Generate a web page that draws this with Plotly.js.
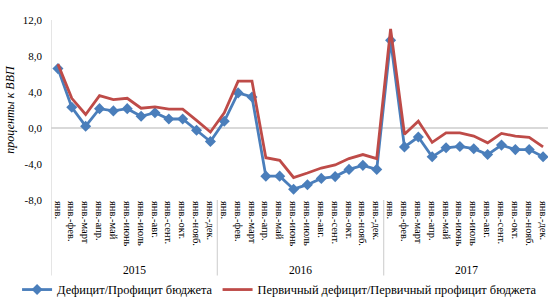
<!DOCTYPE html>
<html>
<head>
<meta charset="utf-8">
<script src="https://cdn.plot.ly/plotly-3.0.1.min.js"></script>
<style>
html,body{margin:0;padding:0;overflow:hidden;background:#fff;}
#chart{width:552px;height:298px;}
</style>
</head>
<body>
<div id="chart"></div>
<script>
const months = ["янв.","янв.-фев.","янв.-март","янв.-апр.","янв.-май","янв.-июнь","янв.-июль","янв.-авг.","янв.-сент.","янв.-окт.","янв.-нояб.","янв.-дек."];
const years = ["2015","2016","2017"];
const deficit = [6.6,2.3,0.2,2.15,1.9,2.15,1.3,1.7,1.0,1.0,-0.25,-1.5,
                 0.75,3.9,3.45,-5.35,-5.35,-6.8,-6.3,-5.6,-5.4,-4.6,-4.15,-4.6,
                 9.75,-2.1,-1.0,-3.2,-2.2,-2.05,-2.3,-2.95,-1.9,-2.4,-2.4,-3.2];
const primary = [7.1,3.3,1.5,3.6,3.15,3.3,2.2,2.35,2.1,2.1,0.85,-0.45,
                 1.7,5.2,5.2,-3.3,-3.6,-5.5,-5.0,-4.45,-4.1,-3.4,-2.95,-3.4,
                 11.0,-0.7,0.75,-1.6,-0.55,-0.55,-0.9,-1.65,-0.6,-0.9,-1.05,-2.1];
const yTicks = [-8,-4,0,4,8,12];
const yTickText = ["-8,0","-4,0","0,0","4,0","8,0","12,0"];
const seriesNames = ["Дефицит/Профицит бюджета","Первичный дефицит/Первичный профицит бюджета"];

const idx = [], labels = [];
years.forEach((y, yi) => months.forEach((m, mi) => { idx.push(yi*12+mi); labels.push(m); }));

const font = "Liberation Serif, Times New Roman, serif";
const traces = [
  {x: idx, y: deficit, name: seriesNames[0], type: "scatter", mode: "lines+markers",
   line: {color: "#4a7ebb", width: 2.8}, marker: {symbol: "diamond", size: 8.5, color: "#4a7ebb"}},
  {x: idx, y: primary, name: seriesNames[1], type: "scatter", mode: "lines",
   line: {color: "#be4b48", width: 2.8}}
];

const bottomY = -0.42;
const shapes = [];
[-0.5, 11.5, 23.5, 35.5].forEach((xv, i) => {
  shapes.push({type: "line", xref: "x", yref: "paper", x0: xv, x1: xv,
    y0: i === 0 ? 1 : 0, y1: bottomY, line: {color: "#d4d4d4", width: 1.2}});
});
const annotations = years.map((y, i) => ({
  x: i*12 + 5.5, y: -0.39, xref: "x", yref: "paper", text: y, showarrow: false,
  xanchor: "center", yanchor: "middle", font: {family: font, size: 11.5, color: "#000"}
}));

const layout = {
  width: 552, height: 298,
  margin: {l: 51, r: 2, t: 20, b: 98, autoexpand: false},
  paper_bgcolor: "#fff", plot_bgcolor: "#fff",
  font: {family: font, size: 10, color: "#000"},
  showlegend: true,
  legend: {orientation: "h", x: -0.068, xanchor: "left", y: -0.5, yanchor: "middle",
    font: {family: font, size: 12.4, color: "#000"}, itemwidth: 30, bgcolor: "rgba(0,0,0,0)"},
  xaxis: {range: [-0.5, 35.5], tickvals: idx, ticktext: labels, tickangle: 90,
    showgrid: false, zeroline: false, showline: false, ticks: "", automargin: false,
    tickfont: {family: font, size: 10.5, color: "#000"}, fixedrange: true},
  yaxis: {range: [-8, 12], tickvals: yTicks, ticktext: yTickText, showgrid: false,
    zeroline: true, zerolinecolor: "#d9d9d9", zerolinewidth: 1.5, showline: false,
    ticks: "", ticklabelstandoff: 8, automargin: false,
    tickfont: {family: font, size: 11, color: "#000"},
    title: {text: "<i>проценты к ВВП</i>", font: {family: font, size: 12, color: "#000"}, standoff: 5}},
  shapes: shapes,
  annotations: annotations
};

Plotly.newPlot("chart", traces, layout, {displayModeBar: false, staticPlot: true});
</script>
</body>
</html>
